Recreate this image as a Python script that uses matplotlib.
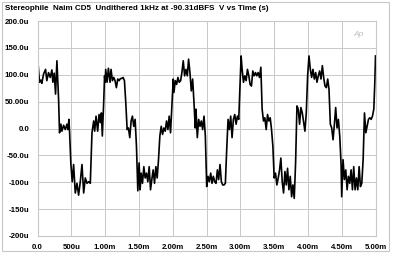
import matplotlib
matplotlib.use("Agg")
import matplotlib.pyplot as plt
from matplotlib.patches import Rectangle

# time in ms, amplitude in microvolts
t_ms = [0.000, 0.010, 0.030, 0.050, 0.064, 0.089, 0.119, 0.138, 0.163, 0.188,
        0.213, 0.227, 0.247, 0.267, 0.287, 0.312, 0.326, 0.346, 0.361, 0.386,
        0.411, 0.435, 0.450, 0.465, 0.475, 0.494, 0.514, 0.534, 0.559, 0.584,
        0.608, 0.633, 0.658, 0.683, 0.707, 0.732, 0.757, 0.781, 0.806, 0.831,
        0.846, 0.866, 0.890, 0.910, 0.930, 0.945, 0.959, 0.979,
        0.992, 1.000, 1.009, 1.029, 1.049, 1.073, 1.088, 1.108, 1.128, 1.147,
        1.167, 1.187, 1.207, 1.227, 1.246, 1.266, 1.286, 1.306, 1.326, 1.345,
        1.365, 1.385, 1.404, 1.424, 1.444, 1.464, 1.484, 1.503, 1.518, 1.533,
        1.553, 1.573, 1.592, 1.612, 1.632, 1.652, 1.672, 1.691, 1.711, 1.731,
        1.751, 1.770, 1.790, 1.810, 1.830, 1.850, 1.869, 1.889, 1.909, 1.929,
        1.948, 1.968, 1.988,
        2.008, 2.018, 2.038, 2.058, 2.077, 2.097, 2.117, 2.136, 2.156, 2.176,
        2.196, 2.216, 2.235, 2.255, 2.275, 2.295, 2.315, 2.334, 2.344, 2.364,
        2.384, 2.404, 2.423, 2.443, 2.463, 2.483, 2.503, 2.522, 2.542, 2.562,
        2.582, 2.601, 2.621, 2.641, 2.661, 2.680, 2.700, 2.720, 2.740, 2.760,
        2.779, 2.799, 2.819, 2.839, 2.858, 2.878, 2.898, 2.918, 2.938, 2.957,
        2.977, 2.997, 3.012,
        3.027, 3.047, 3.066, 3.086, 3.106, 3.126, 3.145, 3.165, 3.185, 3.205,
        3.225, 3.244, 3.264, 3.284, 3.304, 3.323, 3.343, 3.363, 3.383, 3.403,
        3.422, 3.442, 3.462, 3.482, 3.501, 3.521, 3.541, 3.561, 3.581, 3.600,
        3.620, 3.640, 3.660, 3.680, 3.699, 3.719, 3.739, 3.759, 3.778, 3.798,
        3.818, 3.838, 3.858, 3.877, 3.897, 3.917, 3.937, 3.956, 3.976, 3.996,
        4.016,
        4.036, 4.055, 4.075, 4.095, 4.115, 4.134, 4.154, 4.174, 4.194, 4.214,
        4.233, 4.253, 4.273, 4.293, 4.312, 4.332, 4.352, 4.372, 4.392, 4.411,
        4.431, 4.451, 4.471, 4.491, 4.500, 4.520, 4.540, 4.560, 4.580, 4.599,
        4.619, 4.639, 4.659, 4.678, 4.698, 4.718, 4.738, 4.758, 4.777, 4.797,
        4.817, 4.837, 4.857, 4.876, 4.896, 4.916, 4.936, 4.955, 4.975, 4.990,
        5.000]

v_uV = [67, 118, 86, 90, 84, 101, 110, 89, 104, 95,
        109, 86, 103, 64, 126, 54, -8, 8, -5, 6,
        -2, 8, -2, 17, -8, -67, -99, -67, -120, -102,
        -124, -99, -67, -120, -92, -102, -99, -102, -8, 14,
        -5, 23, -5, 26, 11, 29, -14, 48,
        98, 86, 110, 86, 112, 86, 110, 89, 95, 89,
        76, 92, 89, 93, 93, 95, 89, 48, -2, 1,
        -17, 14, 23, 4, 17, -33, -116, -64, -114, -83,
        -102, -71, -92, -83, -99, -71, -114, -95, -77, -102,
        -71, -92, -58, -14, 4, -11, 1, -5, 14, -2,
        23, -8, 42,
        92, 67, 89, 82, 95, 86, 89, 104, 126, 98,
        110, 98, 129, 104, 70, 92, 48, 1, 36, -17,
        17, 4, 14, -2, 23, -14, -108, -89, -99, -83,
        -102, -89, -99, -102, -77, -95, -67, -99, -105, -105,
        -102, -39, 17, -2, 23, -17, 17, 26, 8, 23,
        17, 86, 135,
        110, 86, 98, 89, 110, 98, 82, 79, 107, 98,
        104, 98, 104, 95, 114, 36, 14, 20, -2, 26,
        14, 20, -2, -33, -92, -83, -105, -92, -77, -55,
        -99, -120, -80, -105, -74, -114, -89, -127, -105, -130,
        -64, 42, 36, 8, 39, 29, 11, -5, 29, 98,
        135,
        110, 95, 110, 92, 104, 86, 98, 107, 92, 117,
        95, 79, 76, 92, 73, 8, 1, -21, 8, 39,
        1, 17, -14, -67, -127, -58, -95, -77, -114, -89,
        -102, -77, -114, -71, -114, -92, -114, -71, -108, -102,
        -58, 29, -8, 4, 17, 20, 17, 23, 36, 86,
        135]

x_ticks = [0.0, 0.5, 1.0, 1.5, 2.0, 2.5, 3.0, 3.5, 4.0, 4.5, 5.0]
x_labels = ["0.0", "500u", "1.00m", "1.50m", "2.00m", "2.50m",
            "3.00m", "3.50m", "4.00m", "4.50m", "5.00m"]
y_ticks = [200, 150, 100, 50, 0, -50, -100, -150, -200]
y_labels = ["200.0u", "150.0u", "100.0u", "50.00u", "0.0",
            "-50.0u", "-100u", "-150u", "-200u"]

title = "Stereophile  Naim CD5  Undithered 1kHz at -90.31dBFS  V vs Time (s)"

plt.rcParams['font.family'] = ['Liberation Sans', 'DejaVu Sans']
grid_col = '#c8c8c8'

fig = plt.figure(figsize=(4, 2.54), dpi=100)
fig.patch.set_facecolor('white')

# outer frame around the whole graph
fig.patches.append(Rectangle((2 / 400, 3 / 254), 387 / 400, 249 / 254,
                             transform=fig.transFigure, fill=False,
                             edgecolor=grid_col, linewidth=0.8))

ax = fig.add_axes([37.5 / 400, 1 - 236 / 254, 338 / 400, 215 / 254])
ax.plot(t_ms, v_uV, color='black', linewidth=1.2)

ax.set_xlim(0, 5)
ax.set_ylim(-200, 200)
ax.set_xticks(x_ticks)
ax.set_xticklabels(x_labels)
ax.set_yticks(y_ticks)
ax.set_yticklabels(y_labels)
ax.tick_params(axis='y', length=0, labelsize=5.7, pad=6)
ax.tick_params(axis='x', length=0, labelsize=5.7, pad=6)
for lbl in ax.get_xticklabels() + ax.get_yticklabels():
    lbl.set_fontweight('bold')
ax.grid(True, color=grid_col, linewidth=0.7)
ax.set_axisbelow(True)
for sp in ax.spines.values():
    sp.set_color(grid_col)
    sp.set_linewidth(0.8)

# Audio Precision logo
ax.text(0.965, 0.955, "Ap", transform=ax.transAxes, ha='right', va='top',
        fontsize=6, style='italic', color='#c0c0c0')

fig.text(5 / 400, 1 - 9 / 254, title, ha='left', va='center',
         fontsize=5.8, fontweight='bold')

fig.savefig("out.png", dpi=100)
